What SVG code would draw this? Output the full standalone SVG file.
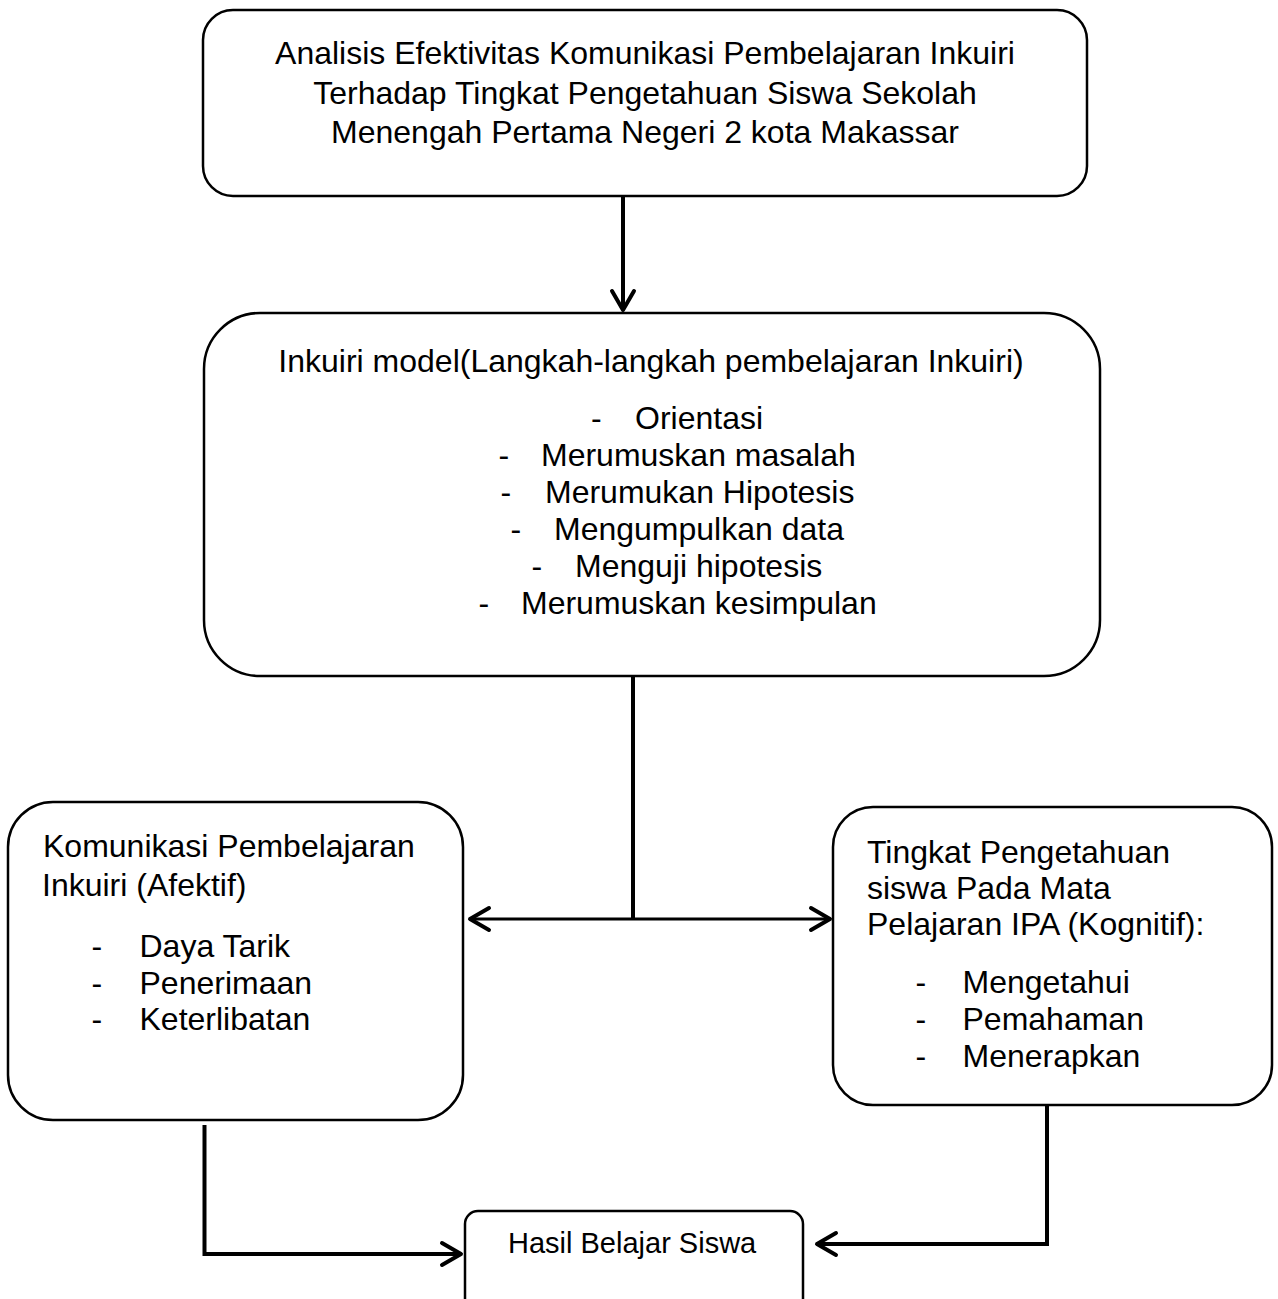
<svg xmlns="http://www.w3.org/2000/svg" width="1278" height="1299" viewBox="0 0 1278 1299">
<style>
.box{fill:#fff;stroke:#000;stroke-width:2.5}
.t{font-family:"Liberation Sans",Arial,sans-serif;font-size:32px;fill:#000}
.c{text-anchor:middle}
.con{fill:none;stroke:#000;stroke-width:4}
</style>
<defs>
<marker id="arr" markerUnits="userSpaceOnUse" viewBox="-24 -14 28 28" refX="0" refY="0" markerWidth="28" markerHeight="28" orient="auto" overflow="visible">
<path d="M-19,-11 L0,0 L-19,11" fill="none" stroke="#000" stroke-width="4" stroke-linecap="round" stroke-linejoin="round"/>
</marker>
</defs>
<rect width="1278" height="1299" fill="#fff"/>
<g id="n1">
<rect class="box" x="203" y="10" width="884" height="186" rx="30"/>
<text class="t c" x="645" y="63.5">Analisis Efektivitas Komunikasi Pembelajaran Inkuiri</text>
<text class="t c" x="645" y="104">Terhadap Tingkat Pengetahuan Siswa Sekolah</text>
<text class="t c" x="645" y="143">Menengah Pertama Negeri 2 kota Makassar</text>
</g>
<g id="n2">
<rect class="box" x="204" y="313" width="896" height="363" rx="56"/>
<text class="t c" x="651" y="372">Inkuiri model(Langkah-langkah pembelajaran Inkuiri)</text>
<text class="t" x="591" y="428.5">-</text><text class="t" x="635" y="428.5">Orientasi</text>
<text class="t" x="498.5" y="466">-</text><text class="t" x="541" y="466">Merumuskan masalah</text>
<text class="t" x="500.5" y="503">-</text><text class="t" x="545" y="503">Merumukan Hipotesis</text>
<text class="t" x="510.5" y="540">-</text><text class="t" x="554" y="540">Mengumpulkan data</text>
<text class="t" x="531.5" y="577">-</text><text class="t" x="575" y="577">Menguji hipotesis</text>
<text class="t" x="478.5" y="614">-</text><text class="t" x="521" y="614">Merumuskan kesimpulan</text>
</g>
<g id="n3">
<rect class="box" x="8" y="802" width="455" height="318" rx="45"/>
<text class="t" x="43" y="857">Komunikasi Pembelajaran</text>
<text class="t" x="42" y="896">Inkuiri (Afektif)</text>
<text class="t" x="91.5" y="957">-</text><text class="t" x="139.5" y="957">Daya Tarik</text>
<text class="t" x="91.5" y="994">-</text><text class="t" x="139.5" y="994">Penerimaan</text>
<text class="t" x="91.5" y="1030">-</text><text class="t" x="139.5" y="1030">Keterlibatan</text>
</g>
<g id="n4">
<rect class="box" x="833" y="807" width="439" height="298" rx="40"/>
<text class="t" x="867" y="863">Tingkat Pengetahuan</text>
<text class="t" x="867" y="899">siswa Pada Mata</text>
<text class="t" x="867" y="935">Pelajaran IPA (Kognitif):</text>
<text class="t" x="915.5" y="993">-</text><text class="t" x="962.5" y="993">Mengetahui</text>
<text class="t" x="915.5" y="1030">-</text><text class="t" x="962.5" y="1030">Pemahaman</text>
<text class="t" x="915.5" y="1067">-</text><text class="t" x="962.5" y="1067">Menerapkan</text>
</g>
<g id="n5">
<rect class="box" x="465" y="1211" width="338" height="120" rx="13"/>
<text class="t" x="508" y="1253" style="font-size:29px">Hasil Belajar Siswa</text>
</g>
<g id="connectors">
<line class="con" x1="623" y1="196" x2="623" y2="310" marker-end="url(#arr)"/>
<line class="con" x1="633" y1="676" x2="633" y2="919"/>
<line class="con" x1="633" y1="919" x2="470" y2="919" style="stroke-width:3.2" marker-end="url(#arr)"/>
<line class="con" x1="633" y1="919" x2="830" y2="919" style="stroke-width:3.2" marker-end="url(#arr)"/>
<polyline class="con" points="204.5,1125 204.5,1254 461,1254" marker-end="url(#arr)"/>
<polyline class="con" points="1047,1105 1047,1244 817,1244" marker-end="url(#arr)"/>
</g>
</svg>
